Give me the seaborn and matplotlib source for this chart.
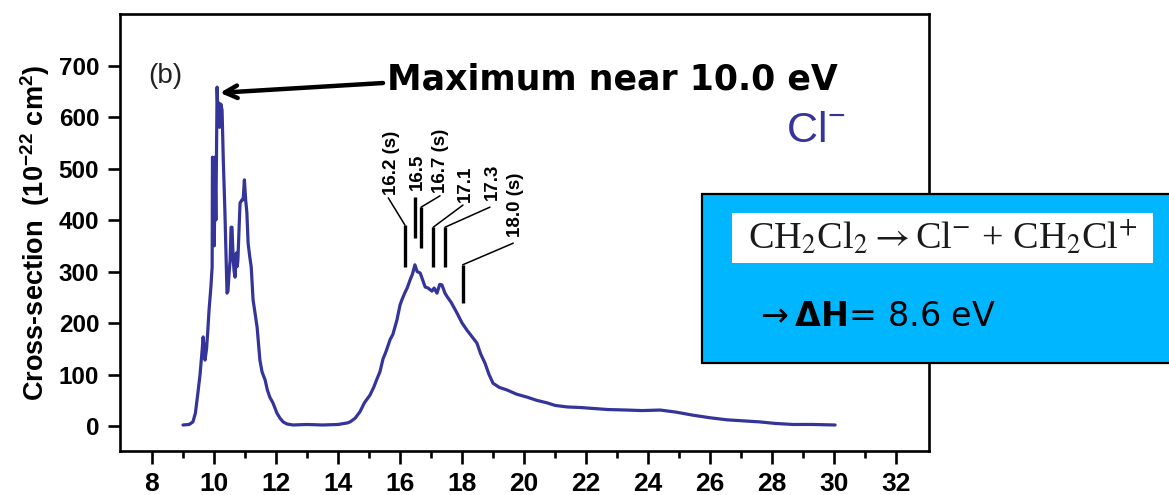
import matplotlib
matplotlib.use("Agg")
import matplotlib.pyplot as plt
from matplotlib.patches import Rectangle
import seaborn as sns
import pandas as pd

# ---------------- data ----------------
energy_ev = [9.00, 9.20, 9.32, 9.40, 9.48, 9.55, 9.61, 9.65, 9.68, 9.71, 9.76, 9.80, 9.84,
             9.90, 9.94, 9.95, 9.99, 10.01, 10.03, 10.06, 10.10, 10.13, 10.16, 10.18, 10.22,
             10.26, 10.30, 10.35, 10.40, 10.42, 10.45, 10.49, 10.52, 10.55, 10.58, 10.62,
             10.65, 10.68, 10.72, 10.75, 10.77, 10.82, 10.84, 10.90, 10.94, 10.98, 11.02,
             11.06, 11.10, 11.15, 11.20, 11.26, 11.32, 11.39, 11.45, 11.48, 11.55, 11.65,
             11.72, 11.80, 11.90, 12.03, 12.13, 12.23, 12.35, 12.55, 13.00, 13.50, 14.00,
             14.30, 14.39, 14.55, 14.71, 14.85, 15.03, 15.15, 15.26, 15.35, 15.45, 15.55,
             15.68, 15.77, 15.90, 16.00, 16.06, 16.15, 16.23, 16.32, 16.40, 16.48, 16.55,
             16.65, 16.72, 16.81, 16.90, 17.03, 17.10, 17.19, 17.28, 17.35, 17.45, 17.52,
             17.65, 17.84, 18.00, 18.16, 18.30, 18.48, 18.60, 18.74, 18.87, 19.00, 19.20,
             19.45, 19.75, 20.10, 20.40, 20.74, 21.00, 21.39, 21.80, 22.23, 22.70, 23.32,
             23.80, 24.39, 24.90, 25.45, 26.00, 26.55, 27.10, 27.60, 28.10, 28.68, 29.30,
             30.03]
cross_section = [2, 3, 8, 25, 64, 100, 142, 173, 150, 128, 150, 185, 225,
                 270, 309, 522, 520, 350, 522, 400, 658, 600, 627, 580, 625,
                 613, 516, 419, 300, 258, 262, 300, 322, 386, 386, 322,
                 300, 289, 336, 310, 322, 400, 433, 439, 439, 478, 440,
                 414, 355, 330, 309, 245, 220, 192, 150, 128, 105, 89,
                 70, 56, 45, 25, 15, 8, 4, 2, 3, 2, 3,
                 6, 8, 15, 28, 45, 60, 75, 92, 105, 130, 145,
                 168, 178, 206, 235, 245, 258, 268, 283, 295, 313, 300,
                 297, 285, 270, 268, 262, 268, 258, 275, 274, 258, 251,
                 240, 219, 200, 186, 175, 161, 140, 122, 100, 83, 75,
                 70, 62, 56, 50, 45, 40, 37, 36, 34, 32, 31,
                 30, 31, 27, 21, 16, 12, 10, 8, 5, 3, 3,
                 2]

x_ticks = [8, 10, 12, 14, 16, 18, 20, 22, 24, 26, 28, 30, 32]
y_ticks = [0, 100, 200, 300, 400, 500, 600, 700]

peak_labels = ["16.2 (s)", "16.5", "16.7 (s)", "17.1", "17.3", "18.0 (s)"]

# ---------------- annotation geometry (positions, not data) ----------------
bar_x = [16.16, 16.48, 16.68, 17.07, 17.45, 18.02]
bar_lo = [309, 365, 346, 309, 309, 239]
bar_hi = [390, 445, 425, 386, 386, 313]
lead_x = [15.62, None, 17.29, 18.03, 18.90, 19.65]
lead_y = [443, None, 447, 429, 425, 355]
text_x = [15.72, 16.55, 17.31, 18.10, 18.97, 19.71]
text_y = [449, 458, 452, 435, 439, 367]

LINE_COLOR = "#34349A"

sns.set_style("ticks")
plt.rcParams["font.family"] = ["Liberation Sans", "DejaVu Sans"]
plt.rcParams["mathtext.fontset"] = "custom"
plt.rcParams["mathtext.rm"] = "Liberation Sans"
plt.rcParams["mathtext.bf"] = "Liberation Sans:bold"
plt.rcParams["mathtext.it"] = "Liberation Sans:italic"
plt.rcParams["text.color"] = "black"
plt.rcParams["axes.labelcolor"] = "black"
plt.rcParams["xtick.color"] = "black"
plt.rcParams["ytick.color"] = "black"
plt.rcParams["axes.edgecolor"] = "black"

fig = plt.figure(figsize=(11.69, 4.95), dpi=100)
ax = fig.add_axes([0.1027, 0.0889, 0.6920, 0.8828])

df = pd.DataFrame({"E": energy_ev, "S": cross_section})
sns.lineplot(data=df, x="E", y="S", ax=ax, color=LINE_COLOR, lw=2.3,
             sort=False, estimator=None)

ax.set_xlim(6.97, 33.06)
ax.set_ylim(-48.5, 800)
ax.set_xticks(x_ticks)
ax.set_xticks([t + 1 for t in x_ticks[:-1]], minor=True)
ax.set_yticks(y_ticks)
ax.set_xticklabels([str(t) for t in x_ticks], fontsize=19, fontweight="bold")
ax.set_yticklabels([str(t) for t in y_ticks], fontsize=17.5, fontweight="bold")
ax.tick_params(axis="both", which="major", direction="out", length=9, width=1.9,
               pad=6, colors="black")
ax.tick_params(axis="x", which="minor", direction="out", length=5, width=1.9,
               colors="black")
for s in ax.spines.values():
    s.set_linewidth(1.9)
    s.set_color("black")
    s.set_visible(True)
ax.set_xlabel("")
ax.set_ylabel(r"Cross-section  (10$^{\mathbf{-22}}$ cm$^{\mathbf{2}}$)",
              fontsize=19.5, fontweight="bold", labelpad=5, color="black")

# panel label and ion label
ax.text(8.42, 680, "(b)", fontsize=20, ha="center", va="center", color="#222222")
ax.text(29.4, 573, r"Cl$^{-}$", fontsize=31, ha="center", va="center", color=LINE_COLOR)

# arrow to the maximum
ax.annotate("", xy=(10.19, 647), xytext=(15.45, 666),
            arrowprops=dict(arrowstyle="->,head_length=0.9,head_width=0.45",
                            lw=3.2, color="black", shrinkA=0, shrinkB=0))
ax.text(15.58, 672, "Maximum near 10.0 eV", fontsize=25, fontweight="bold",
        family="DejaVu Sans", ha="left", va="center", color="black")

# peak markers
for lab, bx, lo, hi, lx, ly, tx, ty in zip(peak_labels, bar_x, bar_lo, bar_hi,
                                            lead_x, lead_y, text_x, text_y):
    ax.plot([bx, bx], [lo, hi], color="black", lw=2.4, solid_capstyle="butt")
    if lx is not None:
        ax.plot([bx, lx], [hi, ly], color="black", lw=1.1)
    ax.text(tx, ty, lab, rotation=90, fontsize=13.5, fontweight="bold",
            ha="center", va="bottom", color="black")

# blue info box
fig.patches.append(Rectangle((0.6005, 0.2667), 0.45, 0.3413, transform=fig.transFigure,
                             facecolor="#00B7FF", edgecolor="black", lw=1.6, zorder=5))
fig.patches.append(Rectangle((0.6262, 0.4687), 0.3601, 0.1010, transform=fig.transFigure,
                             facecolor="white", edgecolor="none", zorder=6))
fig.text(0.8062, 0.519,
         r"CH$_2$Cl$_2$$\rightarrow$Cl$^{-}$ + CH$_2$Cl$^{+}$",
         fontsize=27.5, family="Liberation Serif", math_fontfamily="stix",
         ha="center", va="center", color="#1a1a1a", zorder=7)
fig.text(0.645, 0.36, r"$\rightarrow$$\mathbf{\Delta H}$= 8.6 eV", fontsize=24,
         family="DejaVu Sans", math_fontfamily="dejavusans",
         ha="left", va="center", color="black", zorder=7)

fig.savefig("out.png", dpi=100)
